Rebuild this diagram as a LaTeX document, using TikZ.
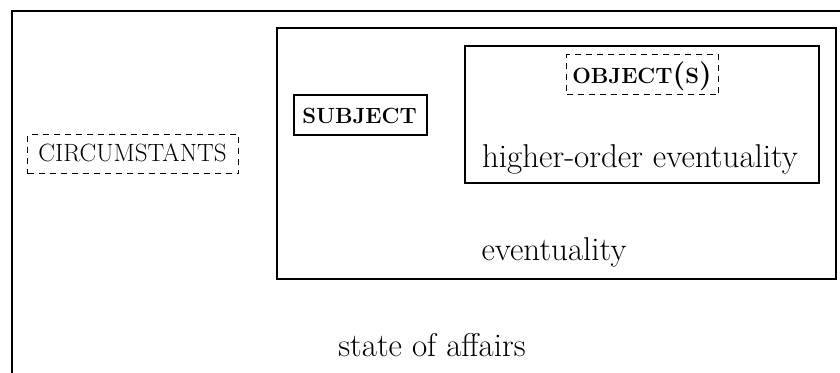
\documentclass[tikz,border=0pt]{standalone}
\usepackage{fontspec}
\begin{document}
\begin{tikzpicture}[x=1pt,y=-1pt,
  frame/.style={draw,line width=1.6pt,inner sep=0pt,anchor=north west},
  dashframe/.style={frame,line width=1.4pt,dash pattern=on 6pt off 5pt},
  plain/.style={inner sep=0pt,anchor=base,font=\fontsize{33}{38}\selectfont},
  capsreg/.style={inner sep=0pt,anchor=base,font=\fontsize{25}{30}\selectfont},
  capsbold/.style={inner sep=0pt,anchor=base,font=\fontsize{22}{26}\selectfont\bfseries}]
\useasboundingbox (0,0) rectangle (840,372);
\clip (0,0) rectangle (840,372);
\fill[white] (0,0) rectangle (840,372);
% state of affairs (runs off the page on the right and at the bottom)
\node[frame,minimum width=860pt,minimum height=400pt] (soa) at (11,10) {};
\node[plain] (soalabel) at (432,356) {state of affairs};
% circumstants
\node[dashframe,minimum width=211pt,minimum height=39pt] (circ) at (27,134) {};
\node[capsreg] (circlabel) at (132.5,161) {CIRCUMSTANTS};
% eventuality
\node[frame,minimum width=559pt,minimum height=251pt] (ev) at (276,27) {};
\node[plain] (evlabel) at (554,260) {eventuality};
% subject
\node[frame,minimum width=133pt,minimum height=40pt] (subj) at (293,94) {};
\node[capsbold] (subjlabel) at (359.5,123) {SUBJECT};
% higher-order eventuality
\node[frame,minimum width=354pt,minimum height=137pt] (hoev) at (464,45) {};
\node[plain] (hoevlabel) at (640,167) {higher-order eventuality};
% object(s)
\node[dashframe,minimum width=152pt,minimum height=40pt] (obj) at (566,54) {};
\node[capsbold] (objlabel) at (642,83) {OBJECT{\fontsize{29}{34}\selectfont(}S{\fontsize{29}{34}\selectfont)}};
\end{tikzpicture}
\end{document}
